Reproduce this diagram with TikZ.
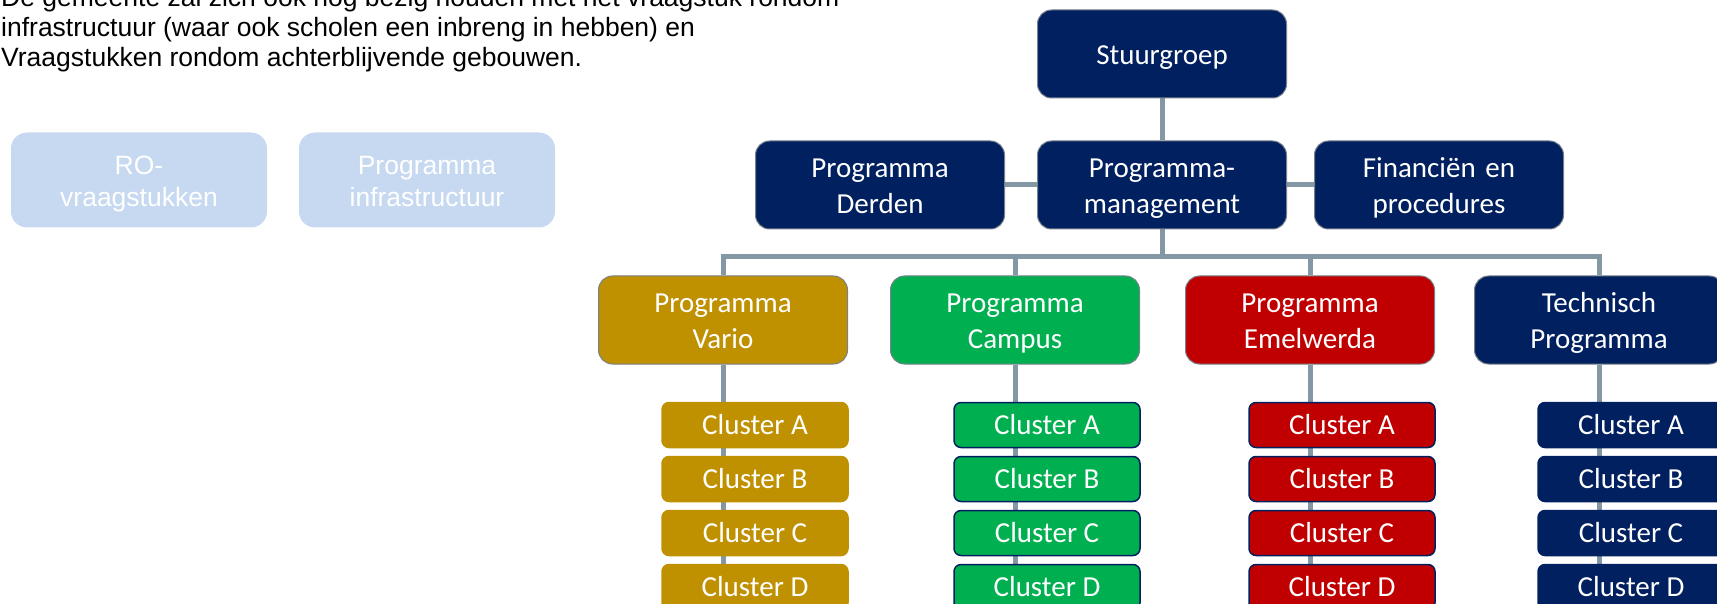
\documentclass[tikz,border=0pt]{standalone}
\usepackage{fontspec}
\setmainfont{Liberation Sans}
\newfontfamily\calibri{Carlito}
\usetikzlibrary{backgrounds}
\definecolor{navy}{HTML}{002060}
\definecolor{gold}{HTML}{BF9000}
\definecolor{campusgreen}{HTML}{00B050}
\definecolor{emelred}{HTML}{C00000}
\definecolor{lightblue}{HTML}{C6D9F1}
\definecolor{linegray}{RGB}{132,151,165}
\definecolor{rimgray}{RGB}{120,128,138}

\begin{document}
\begin{tikzpicture}[x=1pt, y=-1pt,
    box/.style={rounded corners=14pt, draw=rimgray, line width=1pt, text width=249pt, minimum height=88pt, inner sep=0pt, align=center, text=white, font=\calibri\fontsize{29}{36}\selectfont, execute at begin node={\rule{0pt}{29pt}}, execute at end node={\rule[-8.5pt]{0pt}{8.5pt}}},
    cluster/.style={rounded corners=7pt, line width=1.5pt, minimum width=186pt, minimum height=45pt, inner sep=0pt, text=white, font=\calibri\fontsize{29}{36}\selectfont},
    ghost/.style={rounded corners=16pt, fill=lightblue, text width=256pt, minimum height=95pt, inner sep=0pt, align=center, text=white, font=\fontsize{26.5}{32}\selectfont, execute at begin node={\rule{0pt}{30pt}}, execute at end node={\rule[-8pt]{0pt}{8pt}}},
    link/.style={draw=linegray, line width=5pt}]
    \useasboundingbox (0,0) rectangle (1717,604);

    \node[anchor=base west, inner sep=0pt, align=left, font=\fontsize{26.5}{30}\selectfont] (intro) at (1,66.5) {De gemeente zal zich ook nog bezig houden met het vraagstuk rondom\\infrastructuur (waar ook scholen een inbreng in hebben) en\\Vraagstukken rondom achterblijvende gebouwen.};

    \node[ghost] (ro) at (139,180) {RO-\\vraagstukken};
    \node[ghost] (infra) at (427,180) {Programma\\infrastructuur};

    \node[box, fill=navy] (stuur) at (1162,54) {Stuurgroep};
    \node[box, fill=navy] (derden) at (880,185) {Programma\\Derden};
    \node[box, fill=navy] (mgmt) at (1162,185) {Programma-\\management};
    \node[box, fill=navy] (finance) at (1439,185) {Financiën en\\procedures};

    \node[box, fill=gold] (vario) at (723,320) {Programma\\Vario};
    \node[box, fill=campusgreen] (campus) at (1015,320) {Programma\\Campus};
    \node[box, fill=emelred] (emel) at (1310,320) {Programma\\Emelwerda};
    \node[box, fill=navy] (tech) at (1599,320) {Technisch\\Programma};

    \node[cluster, fill=gold, draw=gold] (vario a) at (755,425) {Cluster A};
    \node[cluster, fill=gold, draw=gold] (vario b) at (755,479) {Cluster B};
    \node[cluster, fill=gold, draw=gold] (vario c) at (755,533) {Cluster C};
    \node[cluster, fill=gold, draw=gold] (vario d) at (755,587) {Cluster D};

    \node[cluster, fill=campusgreen, draw=navy] (campus a) at (1047,425) {Cluster A};
    \node[cluster, fill=campusgreen, draw=navy] (campus b) at (1047,479) {Cluster B};
    \node[cluster, fill=campusgreen, draw=navy] (campus c) at (1047,533) {Cluster C};
    \node[cluster, fill=campusgreen, draw=navy] (campus d) at (1047,587) {Cluster D};

    \node[cluster, fill=emelred, draw=navy] (emel a) at (1342,425) {Cluster A};
    \node[cluster, fill=emelred, draw=navy] (emel b) at (1342,479) {Cluster B};
    \node[cluster, fill=emelred, draw=navy] (emel c) at (1342,533) {Cluster C};
    \node[cluster, fill=emelred, draw=navy] (emel d) at (1342,587) {Cluster D};

    \node[cluster, fill=navy, draw=navy] (tech a) at (1631,425) {Cluster A};
    \node[cluster, fill=navy, draw=navy] (tech b) at (1631,479) {Cluster B};
    \node[cluster, fill=navy, draw=navy] (tech c) at (1631,533) {Cluster C};
    \node[cluster, fill=navy, draw=navy] (tech d) at (1631,587) {Cluster D};

    \begin{scope}[on background layer]
        \coordinate (bus) at (1162,257);
        \draw[link] (stuur) -- (mgmt);
        \draw[link] (derden) -- (finance);
        \draw[link] (mgmt) -- (bus);
        \draw[link] (vario) |- (bus) -| (tech);
        \draw[link] (campus) -- (campus |- bus);
        \draw[link] (emel) -- (emel |- bus);
        \draw[link] (vario) -- (vario |- vario d);
        \draw[link] (campus) -- (campus |- campus d);
        \draw[link] (emel) -- (emel |- emel d);
        \draw[link] (tech) -- (tech |- tech d);
    \end{scope}
\end{tikzpicture}
\end{document}
